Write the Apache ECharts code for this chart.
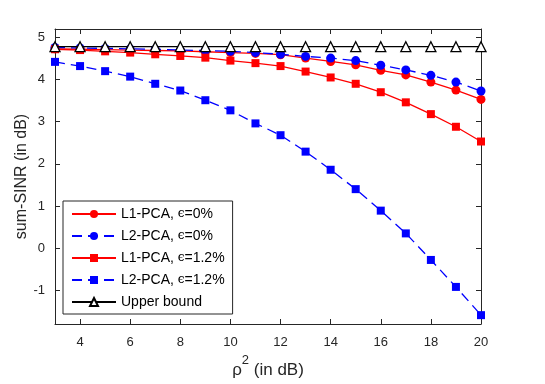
<!DOCTYPE html>
<html>
<head>
<meta charset="utf-8">
<script src="https://cdn.jsdelivr.net/npm/echarts@6/dist/echarts.min.js"></script>
<style>
  html, body { margin: 0; padding: 0; background: #fff; }
  #main { width: 545px; height: 384px; }
</style>
</head>
<body>
<div id="main"></div>
<script>
// rho^2 in dB
var rho2 = [3, 4, 5, 6, 7, 8, 9, 10, 11, 12, 13, 14, 15, 16, 17, 18, 19, 20];

var l1Eps0 = [4.73, 4.72, 4.71, 4.70, 4.69, 4.68, 4.66, 4.64, 4.62, 4.59, 4.51, 4.43, 4.35, 4.22, 4.11, 3.94, 3.75, 3.53];
var l2Eps0 = [4.76, 4.75, 4.74, 4.73, 4.72, 4.70, 4.69, 4.67, 4.64, 4.60, 4.55, 4.51, 4.45, 4.34, 4.23, 4.10, 3.94, 3.73];
var l1Eps12 = [4.72, 4.70, 4.67, 4.64, 4.60, 4.56, 4.52, 4.45, 4.39, 4.32, 4.19, 4.05, 3.90, 3.70, 3.46, 3.18, 2.88, 2.53];
var l2Eps12 = [4.42, 4.32, 4.20, 4.07, 3.90, 3.74, 3.51, 3.27, 2.96, 2.68, 2.29, 1.86, 1.40, 0.89, 0.35, -0.28, -0.92, -1.59];
var upper = [4.78, 4.78, 4.78, 4.78, 4.78, 4.78, 4.78, 4.78, 4.78, 4.78, 4.78, 4.78, 4.78, 4.78, 4.78, 4.78, 4.78, 4.78];

var xTicks = [4, 6, 8, 10, 12, 14, 16, 18, 20];
var yTicks = [-1, 0, 1, 2, 3, 4, 5];

var names = ['L1-PCA, ϵ=0%', 'L2-PCA, ϵ=0%', 'L1-PCA, ϵ=1.2%', 'L2-PCA, ϵ=1.2%', 'Upper bound'];

function pairs(ys) {
  return rho2.map(function (x, i) { return [x, ys[i]]; });
}

var axisCol = '#262626';
var font = 'Liberation Sans, Arial, sans-serif';

function xAxisDef(pos, showLabel) {
  return {
    type: 'value', position: pos, min: 3, max: 20,
    axisLine: { show: true, onZero: false, lineStyle: { color: axisCol, width: 1 } },
    axisTick: { show: true, inside: true, length: 5, customValues: xTicks, lineStyle: { color: axisCol } },
    axisLabel: { show: showLabel, customValues: xTicks, color: axisCol, fontSize: 13, fontFamily: font, margin: 12 },
    splitLine: { show: false }
  };
}
function yAxisDef(pos, showLabel) {
  return {
    type: 'value', position: pos, min: -1.8, max: 5.2,
    axisLine: { show: true, onZero: false, lineStyle: { color: axisCol, width: 1 } },
    axisTick: { show: true, inside: true, length: 5, customValues: yTicks, lineStyle: { color: axisCol } },
    axisLabel: { show: showLabel, customValues: yTicks, color: axisCol, fontSize: 13, fontFamily: font, margin: 10 },
    splitLine: { show: false }
  };
}

var xBottom = xAxisDef('bottom', true);
xBottom.name = '{r|ρ}{s|2}{r| (in dB)}';
xBottom.nameLocation = 'middle';
xBottom.nameGap = 30;
xBottom.nameMoveOverlap = false;
xBottom.nameTextStyle = {
  rich: {
    r: { fontSize: 17, fontFamily: font, color: axisCol, verticalAlign: 'bottom' },
    s: { fontSize: 13, fontFamily: font, color: axisCol, verticalAlign: 'top', padding: [0, 0, 12, 0] }
  }
};
var yLeft = yAxisDef('left', true);
yLeft.name = 'sum-SINR (in dB)';
yLeft.nameLocation = 'middle';
yLeft.nameGap = 25;
yLeft.nameMoveOverlap = false;
yLeft.nameTextStyle = { fontSize: 16, fontFamily: font, color: axisCol };

function lineSeries(name, ys, color, symbol, size, dashed) {
  return {
    name: name, type: 'line', data: pairs(ys),
    symbol: symbol, symbolSize: size,
    itemStyle: { color: color },
    lineStyle: { color: color, width: 1.3, type: dashed ? [10, 6] : 'solid' },
    z: 2
  };
}

var chart = echarts.init(document.getElementById('main'), null, { renderer: 'canvas' });
chart.setOption({
  animation: false,
  backgroundColor: '#fff',
  grid: { left: 55, right: 64, top: 29, bottom: 57 },
  xAxis: [xBottom, xAxisDef('top', false)],
  yAxis: [yLeft, yAxisDef('right', false)],
  legend: {
    orient: 'vertical', left: 63, top: 201,
    data: names,
    itemWidth: 44, itemHeight: 10, itemGap: 8,
    backgroundColor: '#fff',
    borderColor: axisCol, borderWidth: 1,
    padding: [6, 8, 5, 8],
    formatter: function (n) {
      var parts = n.split('ϵ');
      if (parts.length < 2) return n;
      return parts[0] + '{e|ϵ}' + parts[1];
    },
    textStyle: {
      fontSize: 14, fontFamily: font, color: '#000',
      rich: { e: { fontSize: 12, fontFamily: 'DejaVu Serif, serif', color: '#000' } }
    }
  },
  series: [
    lineSeries(names[0], l1Eps0, '#ff0000', 'circle', 9, false),
    lineSeries(names[1], l2Eps0, '#0000ff', 'circle', 9, true),
    lineSeries(names[2], l1Eps12, '#ff0000', 'rect', 8, false),
    lineSeries(names[3], l2Eps12, '#0000ff', 'rect', 8, true),
    {
      name: names[4], type: 'line', data: pairs(upper),
      symbol: 'triangle', symbolSize: 10,
      itemStyle: { color: '#fff', borderColor: '#000', borderWidth: 1.3 },
      lineStyle: { color: '#000', width: 1.3 },
      z: 3
    }
  ]
});
</script>
</body>
</html>
